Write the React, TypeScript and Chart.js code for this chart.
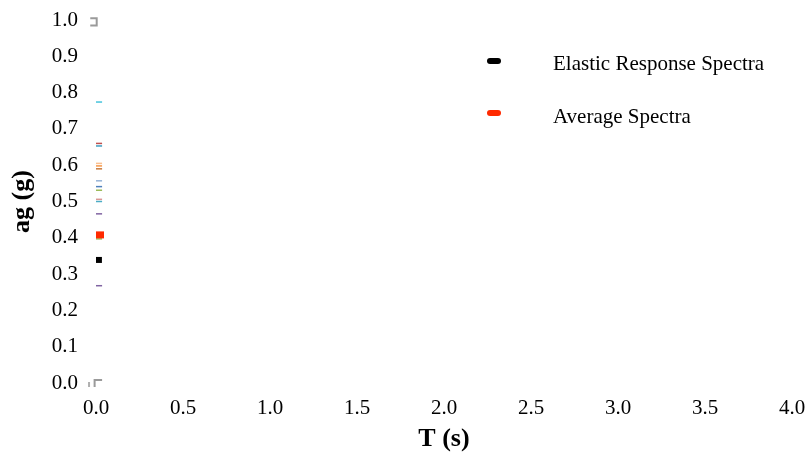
import React, { useEffect, useRef } from "react";
import { Chart, registerables } from "chart.js";
Chart.register(...registerables);

// ---- data ----
const xTicks = [0, 0.5, 1.0, 1.5, 2.0, 2.5, 3.0, 3.5, 4.0];
const yTicks = [0, 0.1, 0.2, 0.3, 0.4, 0.5, 0.6, 0.7, 0.8, 0.9, 1.0];

const recordT = [0, 0.035];
const recordSaStart = [0.774, 0.66, 0.653, 0.605, 0.598, 0.59, 0.557, 0.541, 0.531, 0.506, 0.5, 0.466, 0.397, 0.268];
const recordSaEnd = [0.774, 0.66, 0.653, 0.605, 0.598, 0.59, 0.557, 0.541, 0.531, 0.506, 0.5, 0.466, 0.397, 0.268];

const elasticT = [0, 0.034];
const elasticSa = [0.339, 0.339];

const averageT = [0, 0.046];
const averageSa = [0.408, 0.408];

const grayTopT = [-0.033, 0.004, 0.004, -0.033];
const grayTopSa = [1.005, 1.005, 0.985, 0.985];
const grayBarT = [-0.04, -0.04];
const grayBarSa = [0.003, -0.011];
const grayHookT = [0.035, -0.008, -0.008];
const grayHookSa = [0.008, 0.008, -0.011];

// ---- styles ----
const recordColors = [
  "#46c3dc", "#c0504d", "#3f9cc0", "#fac090", "#f79646", "#c87a3c", "#95b3d7",
  "#4f81bd", "#9bbb59", "#d99694", "#4bacc6", "#8064a2", "#9bbb59", "#8064a2",
];
const FONT = "'Liberation Serif', 'Times New Roman', serif";

const pts = (xs: number[], ys: number[]) => xs.map((x, i) => ({ x, y: ys[i] }));

export default function App() {
  const ref = useRef<HTMLCanvasElement | null>(null);
  useEffect(() => {
    if (!ref.current) return;
    const base = { pointRadius: 0, fill: false, clip: false as any, tension: 0 };
    const datasets: any[] = [
      { ...base, label: "Average Spectra", data: pts(averageT, averageSa), borderColor: "#ff2a00", borderWidth: 7 },
      { ...base, label: "Elastic Response Spectra", data: pts(elasticT, elasticSa), borderColor: "#000000", borderWidth: 6 },
    ];
    recordSaStart.forEach((v, i) => {
      datasets.push({
        ...base,
        label: "Record " + (i + 1),
        data: pts(recordT, [v, recordSaEnd[i]]),
        borderColor: recordColors[i],
        borderWidth: 1.5,
      });
    });
    datasets.push({ ...base, label: "g1", data: pts(grayTopT, grayTopSa), borderColor: "#9a9a9a", borderWidth: 2 });
    datasets.push({ ...base, label: "g2", data: pts(grayBarT, grayBarSa), borderColor: "#b0b0b0", borderWidth: 2 });
    datasets.push({ ...base, label: "g3", data: pts(grayHookT, grayHookSa), borderColor: "#9a9a9a", borderWidth: 2 });

    const chart = new Chart(ref.current, {
      type: "line",
      data: { datasets },
      options: {
        animation: false,
        responsive: false,
        layout: { padding: { left: 0, right: 15, top: 20, bottom: 0 } },
        plugins: { legend: { display: false }, tooltip: { enabled: false } },
        scales: {
          x: {
            type: "linear",
            min: 0,
            max: 4,
            afterBuildTicks: (s: any) => { s.ticks = xTicks.map((v) => ({ value: v })); },
            afterFit: (s: any) => { s.height = 70; s.paddingLeft = 0; s.paddingRight = 0; },
            grid: { display: false, drawTicks: false },
            border: { display: false },
            ticks: {
              padding: 13,
              maxRotation: 0,
              autoSkip: false,
              color: "#000",
              font: { family: FONT, size: 21 },
              callback: (v: any) => Number(v).toFixed(1),
            },
            title: {
              display: true,
              text: "T (s)",
              color: "#000",
              padding: { top: 0, bottom: -2 },
              font: { family: FONT, size: 26, weight: "bold" },
            },
          },
          y: {
            type: "linear",
            min: 0,
            max: 1,
            afterBuildTicks: (s: any) => { s.ticks = yTicks.map((v) => ({ value: v })); },
            afterFit: (s: any) => { s.width = 96; s.paddingTop = 0; s.paddingBottom = 0; },
            grid: { display: false, drawTicks: false },
            border: { display: false },
            ticks: {
              padding: 18,
              autoSkip: false,
              color: "#000",
              font: { family: FONT, size: 21 },
              callback: (v: any) => Number(v).toFixed(1),
            },
            title: {
              display: true,
              text: "ag (g)",
              color: "#000",
              padding: { top: 7, bottom: 0 },
              font: { family: FONT, size: 26, weight: "bold" },
            },
          },
        },
      } as any,
    });
    return () => chart.destroy();
  }, []);

  const textStyle: React.CSSProperties = {
    position: "absolute",
    fontFamily: FONT,
    fontSize: 21,
    lineHeight: "25px",
    color: "#000",
    whiteSpace: "nowrap",
  };
  return (
    <div style={{ position: "absolute", left: 0, top: 0, width: 807, height: 453, background: "#fff" }}>
      <canvas ref={ref} width={807} height={453} style={{ width: 807, height: 453, display: "block" }} />
      <div style={{ position: "absolute", left: 487, top: 58, width: 14, height: 6, borderRadius: 3, background: "#000" }} />
      <div style={{ ...textStyle, left: 553, top: 51 }}>Elastic Response Spectra</div>
      <div style={{ position: "absolute", left: 487, top: 110, width: 14, height: 6, borderRadius: 3, background: "#ff2a00" }} />
      <div style={{ ...textStyle, left: 553, top: 104 }}>Average Spectra</div>
    </div>
  );
}
